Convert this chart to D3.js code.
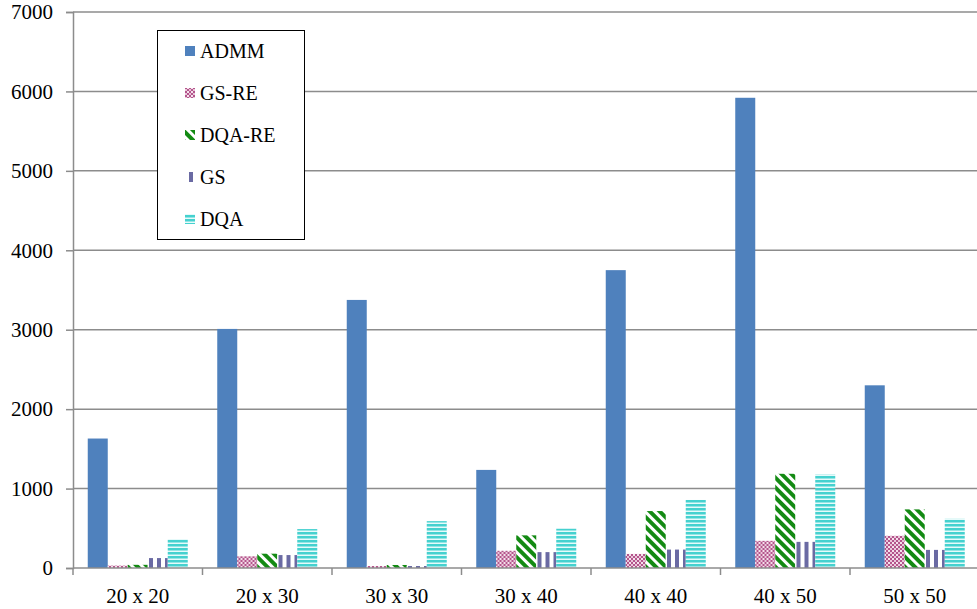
<!DOCTYPE html>
<html>
<head>
<meta charset="utf-8">
<style>
  body { margin: 0; background: #fff; }
  svg { display: block; font-family: "Liberation Serif", "Times New Roman", serif; }
</style>
<script src="https://d3js.org/d3.v7.min.js"></script>
</head>
<body>
<svg width="977" height="609"></svg>
<script>
// chart data
var categories = ["20 x 20", "20 x 30", "30 x 30", "30 x 40", "40 x 40", "40 x 50", "50 x 50"];
var seriesNames = ["ADMM", "GS-RE", "DQA-RE", "GS", "DQA"];
var admm  = [1630, 3010, 3375, 1235, 3750, 5920, 2300];
var gsRe  = [30, 147, 25, 217, 177, 342, 405];
var dqaRe = [40, 180, 38, 411, 717, 1186, 738];
var gs    = [125, 163, 25, 200, 232, 329, 228];
var dqa   = [365, 490, 590, 494, 857, 1177, 620];
var yTicks = [0, 1000, 2000, 3000, 4000, 5000, 6000, 7000];

var seriesValues = [admm, gsRe, dqaRe, gs, dqa];
var fills = ["#4f81bd", "url(#p-gsre)", "url(#p-dqare)", "url(#p-gs)", "url(#p-dqa)"];

var svg = d3.select("svg");
var plotLeft = 73, plotRight = 979.5, plotTop = 12, plotBottom = 568;

var x0 = d3.scaleBand().domain(categories).range([plotLeft, plotRight]).padding(0);
var x1 = d3.scaleBand().domain(seriesNames).range([0, x0.bandwidth()])
  .paddingInner(0).paddingOuter(0.7375);
var y = d3.scaleLinear().domain([0, 7000]).range([plotBottom, plotTop]);

// patterns
var defs = svg.append("defs");

var p1 = defs.append("pattern").attr("id", "p-gsre")
  .attr("patternUnits", "userSpaceOnUse").attr("width", 4).attr("height", 4);
p1.append("rect").attr("width", 4).attr("height", 4).attr("fill", "#b4558c");
p1.append("rect").attr("x", 0).attr("y", 0).attr("width", 2).attr("height", 2).attr("fill", "#e9c6d9");
p1.append("rect").attr("x", 2).attr("y", 2).attr("width", 2).attr("height", 2).attr("fill", "#f4e2ec");

var p2 = defs.append("pattern").attr("id", "p-dqare")
  .attr("patternUnits", "userSpaceOnUse").attr("width", 7).attr("height", 7)
  .attr("patternTransform", "rotate(-45)");
p2.append("rect").attr("width", 7).attr("height", 7).attr("fill", "#fff");
p2.append("rect").attr("width", 4).attr("height", 7).attr("fill", "#138a13");

var p3 = defs.append("pattern").attr("id", "p-gs")
  .attr("patternUnits", "userSpaceOnUse").attr("width", 8).attr("height", 8);
p3.append("rect").attr("width", 8).attr("height", 8).attr("fill", "#fff");
p3.append("rect").attr("x", 4).attr("width", 4).attr("height", 8).attr("fill", "#6a6aa3");

var p4 = defs.append("pattern").attr("id", "p-dqa")
  .attr("patternUnits", "userSpaceOnUse").attr("width", 4).attr("height", 4);
p4.append("rect").attr("width", 4).attr("height", 4).attr("fill", "#e6fafa");
p4.append("rect").attr("y", 0).attr("width", 4).attr("height", 2.5).attr("fill", "#45d1cf");

// gridlines
svg.append("g")
  .selectAll("line")
  .data(yTicks.slice(1))
  .enter().append("line")
    .attr("x1", plotLeft).attr("x2", 977)
    .attr("y1", function(d) { return y(d); })
    .attr("y2", function(d) { return y(d); })
    .attr("stroke", "#8c8c8c")
    .attr("stroke-width", 1.5);

// y axis
var yAxis = svg.append("g")
  .attr("transform", "translate(" + plotLeft + ",0)")
  .call(d3.axisLeft(y).tickValues(yTicks).tickSize(7).tickPadding(13).tickFormat(d3.format("d")));
yAxis.select(".domain").attr("stroke", "#8c8c8c").attr("stroke-width", 1.5);
yAxis.selectAll(".tick line").attr("stroke", "#8c8c8c").attr("stroke-width", 1.5);
yAxis.selectAll("text").attr("font-size", 21).attr("fill", "#000")
  .attr("font-family", "Liberation Serif, serif");

// bars
svg.append("g")
  .selectAll("g")
  .data(categories)
  .enter().append("g")
    .attr("transform", function(d) { return "translate(" + x0(d) + ",0)"; })
  .selectAll("rect")
  .data(function(d, i) { return seriesNames.map(function(k, j) { return {key: k, value: seriesValues[j][i], j: j}; }); })
  .enter().append("rect")
    .attr("x", function(d) { return x1(d.key); })
    .attr("y", function(d) { return y(d.value); })
    .attr("width", x1.bandwidth())
    .attr("height", function(d) { return plotBottom - y(d.value); })
    .attr("fill", function(d) { return fills[d.j]; });

// x axis
var xAxis = svg.append("g")
  .attr("transform", "translate(0," + plotBottom + ")")
  .call(d3.axisBottom(x0).tickSize(0).tickPadding(20));
xAxis.select(".domain").remove();
xAxis.selectAll("text").attr("font-size", 21).attr("fill", "#000")
  .attr("font-family", "Liberation Serif, serif");
svg.append("line")
  .attr("x1", plotLeft).attr("x2", 977).attr("y1", plotBottom).attr("y2", plotBottom)
  .attr("stroke", "#8c8c8c").attr("stroke-width", 1.5);
svg.append("g")
  .selectAll("line")
  .data(categories.concat([null]))
  .enter().append("line")
    .attr("x1", function(d, i) { return plotLeft + i * x0.step(); })
    .attr("x2", function(d, i) { return plotLeft + i * x0.step(); })
    .attr("y1", plotBottom).attr("y2", plotBottom + 7)
    .attr("stroke", "#8c8c8c").attr("stroke-width", 1.5);

// legend
var legend = svg.append("g").attr("transform", "translate(157,30)");
legend.append("rect")
  .attr("x", 0.5).attr("y", 0.5).attr("width", 147).attr("height", 209)
  .attr("fill", "#fff").attr("stroke", "#000").attr("stroke-width", 1);
var item = legend.selectAll("g.item")
  .data(seriesNames)
  .enter().append("g")
    .attr("class", "item")
    .attr("transform", function(d, i) { return "translate(28," + (21 + i * 42) + ")"; });
item.append("rect")
  .attr("x", 0).attr("y", -5).attr("width", 10).attr("height", 10)
  .attr("fill", function(d, i) { return fills[i]; });
item.append("text")
  .attr("x", 15).attr("y", 0).attr("dy", "0.35em")
  .attr("font-size", 20)
  .text(function(d) { return d; });
</script>
</body>
</html>
